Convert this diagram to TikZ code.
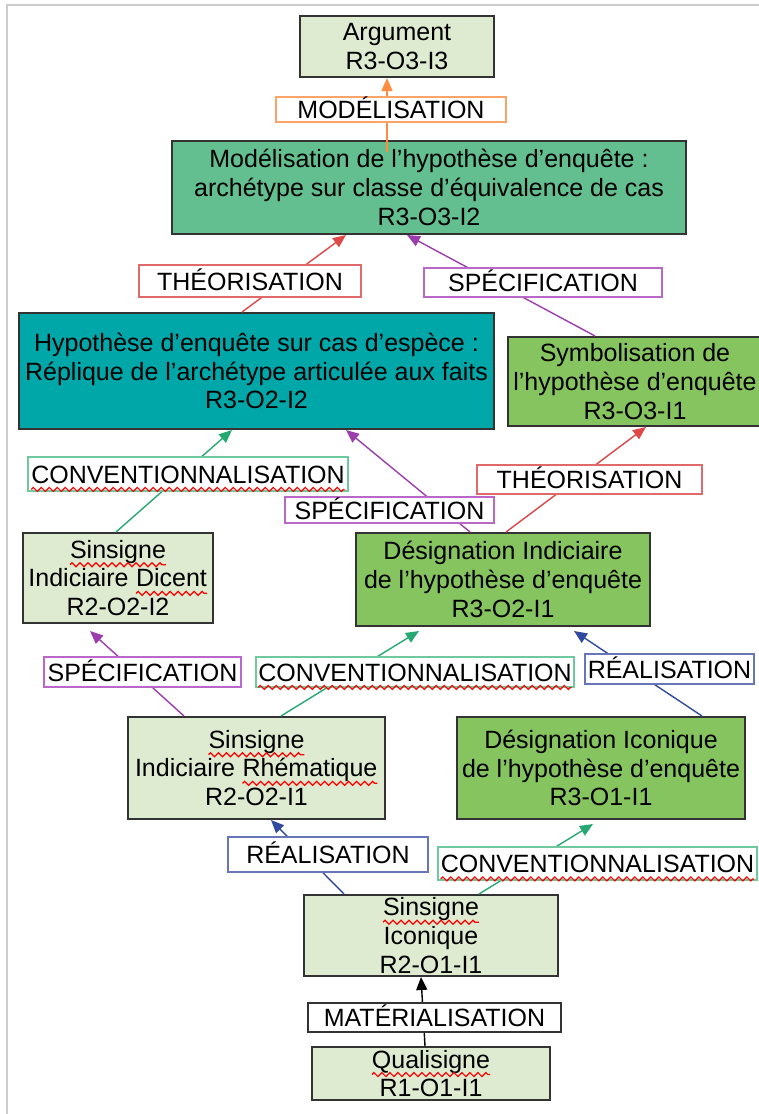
\documentclass[tikz,border=0pt]{standalone}
\usepackage{fontspec}
\setmainfont{Liberation Sans}
\usepackage{tikz}
\usetikzlibrary{arrows.meta,decorations.pathmorphing}
\definecolor{cLight}{HTML}{DEEBD0}
\definecolor{cMid}{HTML}{63BF8F}
\definecolor{cTeal}{HTML}{00A7A9}
\definecolor{cLeaf}{HTML}{86C460}
\definecolor{cOrange}{HTML}{FF8C3F}
\definecolor{cOrangeL}{HTML}{FBA46A}
\definecolor{cRed}{HTML}{E04848}
\definecolor{cRedL}{HTML}{E06A6A}
\definecolor{cPurple}{HTML}{9C3DAE}
\definecolor{cPurpleL}{HTML}{BA68C8}
\definecolor{cGreen}{HTML}{26A872}
\definecolor{cGreenL}{HTML}{70C89E}
\definecolor{cBlue}{HTML}{2F4A9E}
\definecolor{cBlueL}{HTML}{6676B8}
% spell-checker wave under a word
\newcommand{\spell}[1]{\tikz[baseline=(w.base)]{%
  \node[inner sep=0pt,outer sep=0pt,draw=none,fill=none,minimum size=0pt,
        text height=,text depth=] (w) {#1};
  \draw[red,line width=0.6pt,decorate,decoration={zigzag,amplitude=1pt,segment length=4pt}]
       ([yshift=-3.2pt]w.base west) -- ([yshift=-3.2pt]w.base east);}}

\begin{document}
\begin{tikzpicture}[x=0.5pt,y=-0.5pt,>={Triangle[length=6.5pt,width=5.5pt]},
   font=\fontsize{12.5}{14.3}\selectfont,
   box/.style={draw=black!80,line width=1pt,align=center,inner sep=0pt},
   lbl/.style={fill=white,line width=1pt,inner sep=0pt,text height=9pt,text depth=0pt},
   arr/.style={->,line width=0.7pt}]
  \useasboundingbox (0,0) rectangle (759,1114);
  \clip (0,0) rectangle (759,1114);
  % page edge
  \draw[black!20,line width=1pt] (7,1114) -- (7,5) -- (759,5);
  % boxes
  \node[box,fill=cLight,minimum width=97pt,minimum height=30.5pt] (arg) at (397,46.5)
       {Argument\\R3-O3-I3};
  \node[box,fill=cMid,minimum width=257pt,minimum height=46.5pt] (modhyp) at (429,187.5)
       {Modélisation de l’hypothèse d’enquête :\\archétype sur classe d’équivalence de cas\\R3-O3-I2};
  \node[box,fill=cTeal,minimum width=237.5pt,minimum height=58pt] (hypcas) at (256.5,371)
       {Hypothèse d’enquête sur cas d’espèce :\\Réplique de l’archétype articulée aux faits\\R3-O2-I2};
  \node[box,fill=cLeaf,minimum width=127pt,minimum height=44.5pt] (symb) at (635,381.5)
       {Symbolisation de\\l’hypothèse d’enquête\\R3-O3-I1};
  \node[box,fill=cLight,minimum width=95pt,minimum height=45pt] (dicent) at (118,578)
       {\spell{Sinsigne}\\Indiciaire \spell{Dicent}\\R2-O2-I2};
  \node[box,fill=cLeaf,minimum width=147pt,minimum height=46.5pt] (desind) at (503,579.5)
       {Désignation Indiciaire\\de l’hypothèse d’enquête\\R3-O2-I1};
  \node[box,fill=cLight,minimum width=128.5pt,minimum height=51pt] (rhem) at (256.5,768)
       {\spell{Sinsigne}\\Indiciaire \spell{Rhématique}\\R2-O2-I1};
  \node[box,fill=cLeaf,minimum width=144pt,minimum height=51pt] (desicon) at (601,768)
       {Désignation Iconique\\de l’hypothèse d’enquête\\R3-O1-I1};
  \node[box,fill=cLight,minimum width=127pt,minimum height=40.5pt] (sicon) at (431,935.5)
       {\spell{Sinsigne}\\Iconique\\R2-O1-I1};
  \node[box,fill=cLight,minimum width=119pt,minimum height=26.5pt] (quali) at (431,1073.5)
       {\spell{Qualisigne}\\R1-O1-I1};
  % connectors
  \draw[arr,cOrange] ([xshift=-21pt,yshift=-6pt]modhyp.north) -- ([xshift=-5pt]arg.south);
  \draw[arr,cRed] ([xshift=-7.25pt]hypcas.north) -- ([xshift=-41.5pt]modhyp.south);
  \draw[arr,cPurple] ([xshift=-20pt]symb.north) -- ([xshift=-11pt]modhyp.south);
  \draw[arr,cGreen] ([xshift=-1pt]dicent.north) -- ([xshift=-12.25pt]hypcas.south);
  \draw[arr,cPurple] ([xshift=-16.5pt]desind.north) -- ([xshift=44.75pt]hypcas.south);
  \draw[arr,cRed] ([xshift=1.5pt]desind.north) -- ([xshift=5.5pt]symb.south);
  \draw[arr,cPurple] ([xshift=-36.25pt]rhem.north) -- ([xshift=-14pt,yshift=-3.5pt]dicent.south);
  \draw[arr,cGreen] ([xshift=12.25pt]rhem.north) -- ([xshift=-42pt,yshift=-2pt]desind.south);
  \draw[arr,cBlue] ([xshift=50.5pt]desicon.north) -- ([xshift=35.5pt,yshift=-2pt]desind.south);
  \draw[arr,cBlue] ([xshift=-43.5pt]sicon.north) -- ([xshift=7.25pt]rhem.south);
  \draw[arr,cGreen] ([xshift=24pt]sicon.north) -- ([xshift=-4pt,yshift=-2pt]desicon.south);
  \draw[arr,black] ([xshift=-3pt]quali.north) -- ([xshift=-5pt]sicon.south);
  % labels
  \node[lbl,draw=cOrangeL,minimum width=115pt,minimum height=12.5pt] (lmod) at (391,109.5) {MODÉLISATION};
  \node[lbl,draw=cRedL,minimum width=111pt,minimum height=16pt] (lth1) at (250,281) {THÉORISATION};
  \node[lbl,draw=cPurpleL,minimum width=119pt,minimum height=14.5pt] (lsp1) at (543,282.5) {SPÉCIFICATION};
  \node[lbl,draw=cGreenL,minimum width=160pt,minimum height=17pt] (lconv1) at (188,474) {\spell{CONVENTIONNALISATION}};
  \node[lbl,draw=cPurpleL,minimum width=104.5pt,minimum height=13pt] (lsp2) at (389.5,510) {SPÉCIFICATION};
  \node[lbl,draw=cRedL,minimum width=112.5pt,minimum height=14.5pt] (lth2) at (589.5,479.5) {THÉORISATION};
  \node[lbl,draw=cPurpleL,minimum width=98.5pt,minimum height=15pt] (lsp3) at (142.5,672) {SPÉCIFICATION};
  \node[lbl,draw=cGreenL,minimum width=159pt,minimum height=15pt] (lconv2) at (415,672) {\spell{CONVENTIONNALISATION}};
  \node[lbl,draw=cBlueL,minimum width=84.5pt,minimum height=15pt] (lre1) at (669.5,669) {RÉALISATION};
  \node[lbl,draw=cBlueL,minimum width=100pt,minimum height=17.5pt] (lre2) at (328,854.5) {RÉALISATION};
  \node[lbl,draw=cGreenL,minimum width=159.5pt,minimum height=16.5pt] (lconv3) at (597.5,863.5) {\spell{CONVENTIONNALISATION}};
  \node[lbl,draw=black!80,minimum width=126.5pt,minimum height=14.5pt] (lmat) at (434.5,1017.5) {MATÉRIALISATION};
\end{tikzpicture}
\end{document}
